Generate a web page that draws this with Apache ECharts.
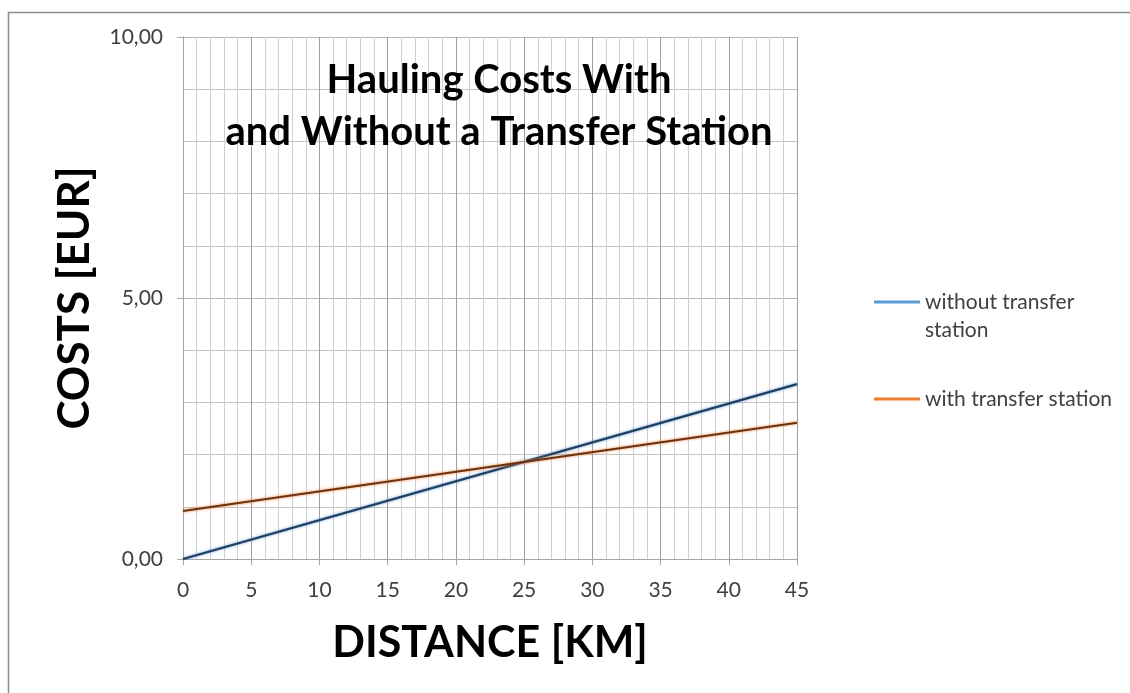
<!DOCTYPE html>
<html>
<head>
<meta charset="utf-8">
<script src="https://cdn.jsdelivr.net/npm/echarts@6/dist/echarts.min.js"></script>
<style>
  html, body { margin: 0; padding: 0; background: #ffffff; }
  #chart { width: 1130px; height: 693px; }
</style>
</head>
<body>
<div id="chart"></div>
<script>
// Hauling cost per distance, with and without a transfer station
const distanceKm = [0, 45];
const costWithout = [0.00, 3.35];
const costWith = [0.92, 2.61];
const seriesNames = ['without transfer station', 'with transfer station'];
const legendColors = ['#5B9BD5', '#ED7D31'];
const lineCores = ['#233e5e', '#6b3312'];

const FONT = 'Lato, "Open Sans", sans-serif';

function pairs(xs, ys) {
  return xs.map((x, i) => [x, ys[i]]);
}

const chart = echarts.init(document.getElementById('chart'), null, { renderer: 'canvas' });

chart.setOption({
  backgroundColor: '#ffffff',
  animation: false,
  title: {
    text: 'Hauling Costs With\nand Without a Transfer Station',
    left: 494,
    top: 49,
    textAlign: 'center',
    textStyle: {
      fontFamily: FONT,
      fontWeight: 'bold',
      fontSize: 40,
      lineHeight: 52,
      color: '#000000'
    }
  },
  legend: {
    orient: 'vertical',
    left: 869,
    top: 255,
    itemWidth: 46,
    itemHeight: 3,
    itemGap: 41,
    icon: 'rect',
    formatter: function (name) {
      return name === seriesNames[0] ? '\nwithout transfer\nstation' : name;
    },
    textStyle: {
      fontFamily: FONT,
      fontSize: 21,
      lineHeight: 28,
      color: '#404040'
    },
    data: [
      { name: seriesNames[0], itemStyle: { color: legendColors[0] } },
      { name: seriesNames[1], itemStyle: { color: legendColors[1] } }
    ]
  },
  grid: {
    left: 183,
    top: 37,
    right: 333,
    bottom: 134,
    containLabel: false
  },
  xAxis: {
    type: 'value',
    min: 0,
    max: 45,
    interval: 5,
    name: 'DISTANCE [KM]',
    nameLocation: 'middle',
    nameGap: 63,
    nameTextStyle: {
      fontFamily: FONT,
      fontWeight: 'bold',
      fontSize: 43,
      color: '#000000'
    },
    axisLine: { show: true, lineStyle: { color: '#a6a6a6', width: 1 } },
    axisTick: { show: true, length: 6, lineStyle: { color: '#a6a6a6' } },
    axisLabel: {
      margin: 21,
      fontFamily: FONT,
      fontSize: 21,
      color: '#404040'
    },
    splitLine: { show: true, lineStyle: { color: '#a0a0a0', width: 1 } },
    minorTick: { show: false, splitNumber: 5 },
    minorSplitLine: { show: true, lineStyle: { color: '#d0d0d0', width: 1 } }
  },
  yAxis: {
    type: 'value',
    min: 0,
    max: 10,
    interval: 5,
    name: 'COSTS [EUR]',
    nameLocation: 'middle',
    nameGap: 86,
    nameRotate: 90,
    nameTextStyle: {
      fontFamily: FONT,
      fontWeight: 'bold',
      fontSize: 44,
      color: '#000000'
    },
    axisLine: { show: true, lineStyle: { color: '#a6a6a6', width: 1 } },
    axisTick: { show: true, length: 6, lineStyle: { color: '#a6a6a6' } },
    axisLabel: {
      margin: 20,
      fontFamily: FONT,
      fontSize: 21,
      color: '#404040',
      formatter: function (v) { return v.toFixed(2).replace('.', ','); }
    },
    splitLine: { show: true, lineStyle: { color: '#b3b3b3', width: 1 } },
    minorTick: { show: false, splitNumber: 5 },
    minorSplitLine: { show: true, lineStyle: { color: '#c4c4c4', width: 1 } }
  },
  series: [
    {
      name: seriesNames[0],
      type: 'line',
      data: pairs(distanceKm, costWithout),
      showSymbol: false,
      symbol: 'none',
      color: legendColors[0],
      lineStyle: {
        color: lineCores[0],
        width: 2.2,
        shadowColor: legendColors[0],
        shadowBlur: 3
      },
      z: 3
    },
    {
      name: seriesNames[1],
      type: 'line',
      data: pairs(distanceKm, costWith),
      showSymbol: false,
      symbol: 'none',
      color: legendColors[1],
      lineStyle: {
        color: lineCores[1],
        width: 2.2,
        shadowColor: legendColors[1],
        shadowBlur: 3
      },
      z: 3
    }
  ],
  graphic: [
    {
      type: 'polyline',
      silent: true,
      shape: { points: [[8.5, 693], [8.5, 12.5], [1130, 12.5]] },
      style: { stroke: '#8c8c8c', lineWidth: 1.5, fill: null }
    }
  ]
});
</script>
</body>
</html>
